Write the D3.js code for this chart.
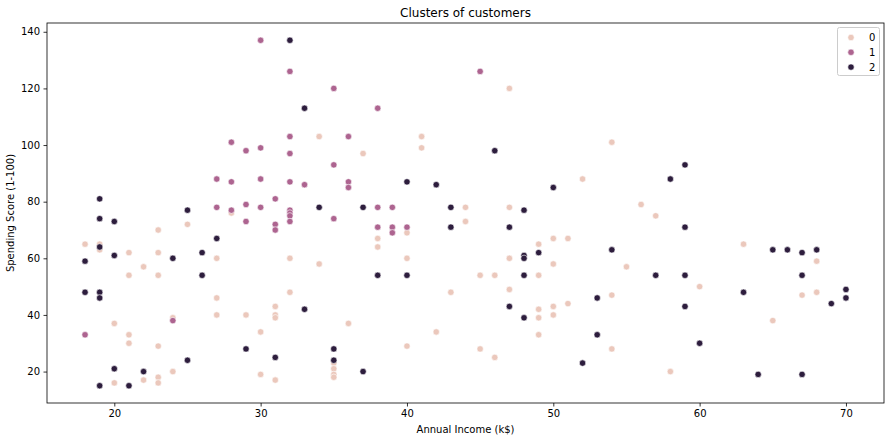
<!DOCTYPE html>
<html>
<head>
<meta charset="utf-8">
<script src="https://cdn.jsdelivr.net/npm/d3@7"></script>
<style>
  body { margin: 0; background: #fff; }
  text { font-family: "DejaVu Sans", sans-serif; fill: #000; }
</style>
</head>
<body>
<div id="chart"></div>
<script>
// cluster 0
var income0 = [34,28,19,19,18,21,22,21,23,23,23,25,27,27,27,20,21,21,23,24,24,20,22,23,23,29,30,30,31,31,31,31,32,32,34,35,35,35,35,47,41,41,37,54,52,44,47,44,40,38,38,40,45,46,47,47,49,49,50,51,50,55,43,49,49,50,50,51,54,36,42,40,49,45,46,54,56,57,60,58,63,68,67,68,65];
var score0  = [103,76,65,63,65,62,57,54,70,62,54,72,60,46,40,37,33,30,29,39,20,16,17,18,16,40,34,19,43,40,39,17,60,48,58,23,21,19,18,120,103,99,97,101,88,78,78,73,69,67,64,60,54,54,60,49,65,54,67,67,58,57,48,42,39,43,40,44,47,37,34,29,33,28,25,28,79,75,50,20,65,59,47,48,38];
// cluster 1
var income1 = [30,32,35,28,29,30,32,32,35,27,28,30,32,33,27,28,29,30,31,32,29,31,31,32,32,32,35,18,24,45,38,36,36,36,38,39,38,39,39,40];
var score1  = [137,126,120,101,98,99,103,97,93,88,87,88,87,86,78,77,79,78,81,77,73,72,70,76,75,73,74,33,38,126,113,103,87,85,78,78,71,71,69,71];
// cluster 2
var income2 = [32,33,19,25,34,19,20,19,18,20,24,26,26,27,18,19,19,20,22,25,19,21,29,31,33,35,35,46,40,42,50,37,43,48,43,47,38,40,48,48,48,49,54,47,48,53,53,52,37,59,58,59,57,59,59,60,63,65,66,67,68,67,70,70,69,64,67];
var score2  = [137,113,81,77,78,74,73,64,59,61,60,62,54,67,48,48,46,21,20,24,15,15,28,25,42,28,24,98,87,86,85,78,78,77,71,71,54,54,61,60,54,62,63,43,39,46,33,23,20,93,88,71,54,54,43,30,48,63,63,62,63,54,49,46,44,19,19];

var clusterLabels = ["0", "1", "2"];
var clusterColors = ["#ebc8bc", "#ad6490", "#2d1d3d"];
var xTicks = [20, 30, 40, 50, 60, 70];
var yTicks = [20, 40, 60, 80, 100, 120, 140];

var width = 891, height = 441;
var margin = {top: 23, right: 7, bottom: 38, left: 47};

var svg = d3.select("#chart").append("svg")
    .attr("width", width)
    .attr("height", height);

var x = d3.scaleLinear().domain([15.4, 72.6]).range([margin.left, width - margin.right]);
var y = d3.scaleLinear().domain([8.9, 143.1]).range([height - margin.bottom, margin.top]);

// points
var groups = [[income0, score0], [income1, score1], [income2, score2]];
var points = [];
groups.forEach(function(g, c){
    g[0].forEach(function(v, i){
        points.push({x: v, y: g[1][i], c: c});
    });
});

svg.append("g").selectAll("circle")
    .data(points)
    .enter().append("circle")
    .attr("cx", d => x(d.x))
    .attr("cy", d => y(d.y))
    .attr("r", 3.2)
    .attr("fill", d => clusterColors[d.c])
    .attr("stroke", "#fff")
    .attr("stroke-width", 0.6);

// axes
var xAxis = svg.append("g")
    .attr("transform", "translate(0," + (height - margin.bottom) + ")")
    .call(d3.axisBottom(x).tickValues(xTicks).tickSize(3.5).tickPadding(3.5));
var yAxis = svg.append("g")
    .attr("transform", "translate(" + margin.left + ",0)")
    .call(d3.axisLeft(y).tickValues(yTicks).tickSize(3.5).tickPadding(3.5));

[xAxis, yAxis].forEach(function(a){
    a.selectAll("text").style("font-size", "10px").style("font-family", "DejaVu Sans");
    a.selectAll("line").attr("stroke", "#000").attr("stroke-width", 0.8);
    a.select(".domain").remove();
});

// frame
svg.append("rect")
    .attr("x", margin.left)
    .attr("y", margin.top)
    .attr("width", width - margin.left - margin.right)
    .attr("height", height - margin.top - margin.bottom)
    .attr("fill", "none")
    .attr("stroke", "#000")
    .attr("stroke-width", 0.8);

// labels
svg.append("text")
    .attr("x", (margin.left + width - margin.right) / 2)
    .attr("y", 17)
    .attr("text-anchor", "middle")
    .style("font-size", "12px")
    .text("Clusters of customers");

svg.append("text")
    .attr("x", (margin.left + width - margin.right) / 2)
    .attr("y", 433)
    .attr("text-anchor", "middle")
    .style("font-size", "10px")
    .text("Annual Income (k$)");

svg.append("text")
    .attr("transform", "translate(14," + ((margin.top + height - margin.bottom) / 2) + ") rotate(-90)")
    .attr("text-anchor", "middle")
    .style("font-size", "10px")
    .text("Spending Score (1-100)");

// legend
var legend = svg.append("g");
legend.append("rect")
    .attr("x", 837.5).attr("y", 27.5)
    .attr("width", 42).attr("height", 48)
    .attr("rx", 2)
    .attr("fill", "#fff")
    .attr("fill-opacity", 0.8)
    .attr("stroke", "#ccc");

clusterLabels.forEach(function(lab, i){
    legend.append("circle")
        .attr("cx", 851).attr("cy", 37.5 + i * 14.8)
        .attr("r", 3.2)
        .attr("fill", clusterColors[i])
        .attr("stroke", "#fff")
        .attr("stroke-width", 0.6);
    legend.append("text")
        .attr("x", 869).attr("y", 37.5 + i * 14.8)
        .attr("dy", "0.35em")
        .style("font-size", "10px")
        .text(lab);
});
</script>
</body>
</html>
